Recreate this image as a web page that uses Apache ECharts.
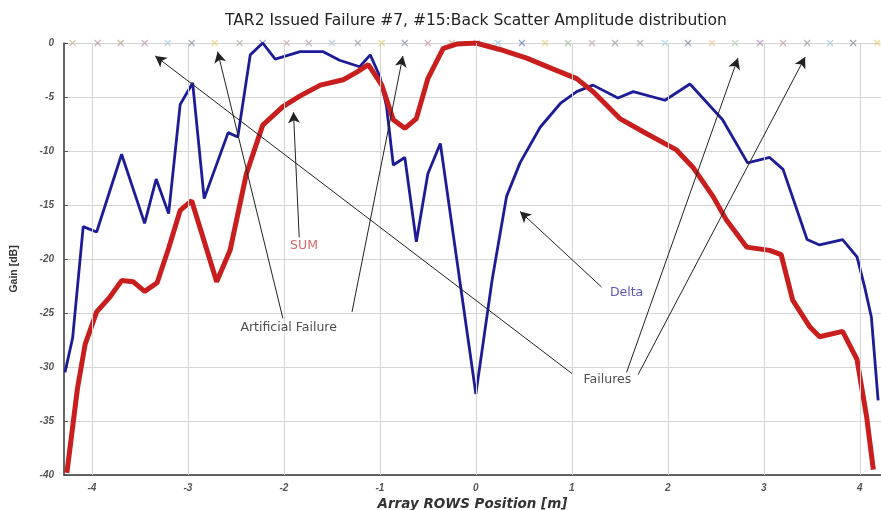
<!DOCTYPE html>
<html>
<head>
<meta charset="utf-8">
<script src="https://cdn.jsdelivr.net/npm/echarts@6/dist/echarts.min.js"></script>
<style>
  html, body { margin: 0; padding: 0; background: #fff; }
  #chart { width: 881px; height: 510px; }
</style>
</head>
<body>
<div id="chart"></div>
<script>
// Delta (blue) and SUM (red) gain curves, [position m, gain dB]
var deltaData = [
  [-4.28, -30.5], [-4.20, -27.3], [-4.09, -17.0], [-3.95, -17.5], [-3.69, -10.3],
  [-3.45, -16.7], [-3.33, -12.6], [-3.20, -15.8], [-3.08, -5.7], [-2.95, -3.7],
  [-2.83, -14.4], [-2.58, -8.3], [-2.48, -8.7], [-2.35, -1.1], [-2.22, 0],
  [-2.09, -1.5], [-1.83, -0.8], [-1.59, -0.8], [-1.42, -1.6], [-1.21, -2.2],
  [-1.10, -1.1], [-1.00, -3.1], [-0.93, -5.9], [-0.86, -11.3], [-0.74, -10.6],
  [-0.62, -18.4], [-0.50, -12.1], [-0.37, -9.3], [0, -32.5], [0.17, -21.9],
  [0.32, -14.2], [0.46, -11.1], [0.67, -7.8], [0.88, -5.6], [1.05, -4.5],
  [1.22, -3.9], [1.48, -5.1], [1.64, -4.5], [1.97, -5.3], [2.23, -3.8],
  [2.57, -7.1], [2.83, -11.1], [3.06, -10.6], [3.20, -11.7], [3.45, -18.2],
  [3.58, -18.7], [3.82, -18.2], [3.97, -19.8], [4.05, -22.6], [4.12, -25.4],
  [4.19, -33.1]
];
var sumData = [
  [-4.26, -39.8], [-4.15, -32.0], [-4.07, -27.9], [-3.95, -24.9], [-3.81, -23.5],
  [-3.69, -22.0], [-3.57, -22.1], [-3.45, -23.0], [-3.32, -22.2], [-3.20, -19.0],
  [-3.08, -15.5], [-2.96, -14.6], [-2.70, -22.1], [-2.56, -19.2], [-2.39, -12.1],
  [-2.22, -7.6], [-2.01, -5.9], [-1.83, -4.9], [-1.62, -3.9], [-1.38, -3.4],
  [-1.24, -2.7], [-1.12, -2.0], [-0.98, -3.9], [-0.86, -7.1], [-0.74, -7.9],
  [-0.62, -7.0], [-0.50, -3.3], [-0.34, -0.5], [-0.20, -0.1], [0, 0],
  [0.25, -0.6], [0.53, -1.4], [0.80, -2.4], [1.05, -3.3], [1.22, -4.5],
  [1.50, -7.0], [1.78, -8.4], [2.09, -9.9], [2.26, -11.5], [2.47, -14.2],
  [2.61, -16.4], [2.82, -18.9], [3.06, -19.2], [3.18, -19.6], [3.30, -23.8],
  [3.48, -26.3], [3.58, -27.2], [3.82, -26.7], [3.97, -29.3], [4.07, -34.6],
  [4.14, -39.5]
];

// element markers along the 0 dB line
var elemPos = [
  -4.20, -3.94, -3.70, -3.45, -3.21, -2.96, -2.72, -2.46, -2.22, -1.97,
  -1.74, -1.50, -1.23, -0.98, -0.74, -0.50, -0.25, 0.01, 0.23, 0.48,
  0.72, 0.96, 1.21, 1.45, 1.71, 1.97, 2.21, 2.46, 2.70, 2.96,
  3.20, 3.45, 3.69, 3.93, 4.18
];
var elemColors = [
  '#c8c0a0', '#b898a8', '#b0a890', '#c098b8', '#a8c8dc', '#8898a8', '#e8d080', '#a8b4a0', '#8090c8', '#d0a8a0',
  '#b8a0b0', '#a8cce0', '#a0a0b0', '#e0cc70', '#8898b0', '#d098b0', '#c8b090', '#a8b0c0', '#98c8e0', '#6888b8',
  '#e0d080', '#a8b8a0', '#c8a0b8', '#a0a0a8', '#a0a8b0', '#a8d0e0', '#8090a8', '#e8c890', '#b0d0b0', '#b090b8',
  '#d0a0a0', '#a0a0a8', '#a8c8d8', '#8898a8', '#e8d080'
];

var xTicks = [-4, -3, -2, -1, 0, 1, 2, 3, 4];

// annotation texts [x, y, text, colour]
var notes = [
  [-1.95, -26.4, 'Artificial Failure', '#222'],
  [-1.79, -18.8, 'SUM', '#c84040'],
  [1.57, -23.1, 'Delta', '#3030a0'],
  [1.37, -31.2, 'Failures', '#222']
];
// arrows [from, to]
var arrows = [
  [[-2.01, -25.5], [-2.69, -0.8]],
  [[-1.29, -24.9], [-0.76, -1.2]],
  [[-1.84, -18.0], [-1.90, -6.4]],
  [[1.31, -22.6], [0.46, -15.6]],
  [[1.00, -30.6], [-3.34, -1.2]],
  [[1.57, -30.5], [2.73, -1.4]],
  [[1.69, -30.7], [3.43, -1.3]]
];

var chart = echarts.init(document.getElementById('chart'));
chart.setOption({
  backgroundColor: '#fff',
  animation: false,
  title: {
    text: 'TAR2 Issued Failure #7, #15:Back Scatter Amplitude distribution',
    left: 220,
    top: 8,
    textStyle: { fontFamily: 'DejaVu Sans', fontSize: 15.5, fontWeight: 'normal', color: '#222' }
  },
  grid: { left: 64, right: 0, top: 43, bottom: 35, outerBoundsMode: 'none' },
  xAxis: {
    type: 'value',
    min: -4.29,
    max: 4.22,
    name: 'Array ROWS Position [m]',
    nameLocation: 'middle',
    nameGap: 12,
    nameTextStyle: { fontFamily: 'DejaVu Sans', fontSize: 13.5, fontWeight: 'bold', fontStyle: 'italic', color: '#333' },
    axisLine: { onZero: false, lineStyle: { color: '#333', width: 1.5 } },
    axisTick: { inside: true, length: 4, customValues: xTicks, lineStyle: { color: '#555' } },
    axisLabel: {
      fontFamily: 'Liberation Sans', fontSize: 10, fontStyle: 'italic', fontWeight: 'bold', color: '#555',
      margin: 8, customValues: xTicks
    },
    splitLine: { show: false }
  },
  yAxis: {
    type: 'value',
    min: -40,
    max: 0,
    interval: 5,
    name: 'Gain [dB]',
    nameLocation: 'middle',
    nameGap: 44,
    nameTextStyle: { fontFamily: 'Liberation Sans', fontSize: 10.5, fontWeight: 'bold', color: '#333', padding: [0, 0, 0, -20] },
    axisLine: { show: true, onZero: false, lineStyle: { color: '#333', width: 1.5 } },
    axisTick: { show: true, inside: true, length: 4, lineStyle: { color: '#555' } },
    axisLabel: { fontFamily: 'Liberation Sans', fontSize: 10, fontStyle: 'italic', fontWeight: 'bold', color: '#555', margin: 10 },
    splitLine: { show: true, lineStyle: { color: '#d4d4d4', width: 1 } }
  },
  series: [
    {
      name: 'grid-x',
      type: 'line',
      data: [],
      markLine: {
        silent: true,
        symbol: 'none',
        label: { show: false },
        lineStyle: { color: '#d4d4d4', width: 1, type: 'solid' },
        data: xTicks.map(function (t) { return { xAxis: t }; })
      },
      z: 0
    },
    {
      name: 'elements',
      type: 'scatter',
      symbol: 'path://M0,0L10,10M10,0L0,10',
      symbolSize: 6,
      silent: true,
      data: elemPos.map(function (x, i) {
        return { value: [x, 0], itemStyle: { color: 'transparent', borderColor: elemColors[i], borderWidth: 1.2 } };
      }),
      z: 1
    },
    {
      name: 'Delta',
      type: 'line',
      data: deltaData,
      showSymbol: false,
      lineStyle: { color: '#1c1c96', width: 2.8 },
      z: 3
    },
    {
      name: 'SUM',
      type: 'line',
      data: sumData,
      showSymbol: false,
      lineStyle: { color: '#c81e1e', width: 5 },
      z: 4
    },
    {
      name: 'arrows',
      type: 'line',
      data: [],
      markLine: {
        silent: true,
        symbol: ['none', 'arrow'],
        symbolSize: [9, 11],
        label: { show: false },
        lineStyle: { color: '#222', width: 1, type: 'solid' },
        data: arrows.map(function (a) {
          return [{ coord: a[0] }, { coord: a[1] }];
        })
      },
      z: 5
    },
    {
      name: 'notes',
      type: 'scatter',
      symbolSize: 0,
      silent: true,
      data: notes.map(function (n) {
        return {
          value: [n[0], n[1]],
          label: {
            show: true, position: 'inside', formatter: n[2],
            fontFamily: 'DejaVu Sans', fontSize: 12.5, color: n[3]
          }
        };
      }),
      z: 6
    }
  ]
});
</script>
</body>
</html>
